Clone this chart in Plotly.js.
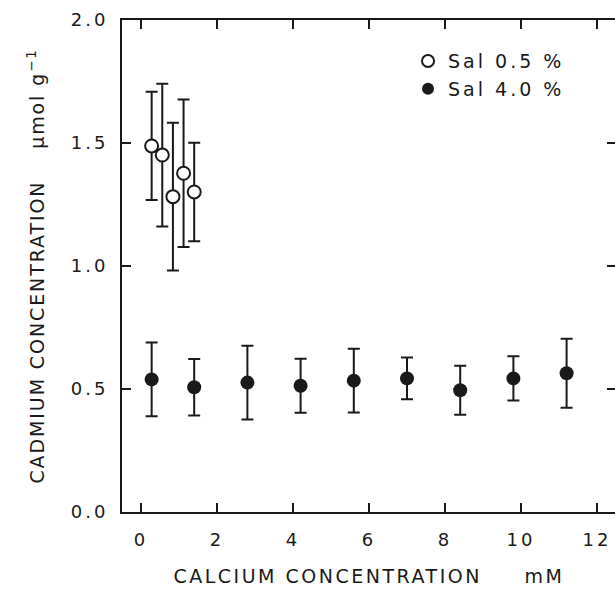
<!DOCTYPE html>
<html>
<head>
<meta charset="utf-8">
<script src="https://cdn.plot.ly/plotly-3.0.1.min.js"></script>
<style>
  html, body { margin: 0; padding: 0; overflow: hidden; background: #fff; }
  #chart { width: 630px; height: 590px; }
  .xtick text, .ytick text { letter-spacing: 3px; }
  .g-xtitle text { letter-spacing: 2.5px; }
  .g-ytitle text { letter-spacing: 1.9px; }
  .legendtext { letter-spacing: 3px; }
</style>
</head>
<body>
<div id="chart"></div>
<script>
// Sal 0.5 % (open circles)
const lowX   = [0.28, 0.56, 0.84, 1.12, 1.40];
const lowY   = [1.488, 1.451, 1.282, 1.377, 1.301];
const lowErr = [0.22, 0.29, 0.30, 0.30, 0.20];

// Sal 4.0 % (filled circles)
const highX   = [0.28, 1.40, 2.80, 4.20, 5.60, 7.00, 8.40, 9.80, 11.20];
const highY   = [0.539, 0.507, 0.526, 0.513, 0.534, 0.543, 0.495, 0.543, 0.564];
const highErr = [0.15, 0.115, 0.15, 0.11, 0.13, 0.085, 0.10, 0.09, 0.14];

const xTicks = [0, 2, 4, 6, 8, 10, 12];
const yTicks = [0, 0.5, 1.0, 1.5, 2.0];
const yTickText = ['0.0', '0.5', '1.0', '1.5', '2.0'];

const INK = '#1a1a1a';
const FONT = 'DejaVu Sans, sans-serif';

const traces = [
  {
    x: lowX, y: lowY, name: 'Sal 0.5 %', type: 'scatter', mode: 'markers',
    marker: { symbol: 'circle', size: 13, color: '#ffffff', line: { color: INK, width: 2 } },
    error_y: { type: 'data', array: lowErr, visible: true, color: INK, thickness: 2, width: 6 }
  },
  {
    x: highX, y: highY, name: 'Sal 4.0 %', type: 'scatter', mode: 'markers',
    marker: { symbol: 'circle', size: 14, color: INK, line: { color: INK, width: 0 } },
    error_y: { type: 'data', array: highErr, visible: true, color: INK, thickness: 2, width: 6 }
  }
];

const layout = {
  width: 630, height: 590,
  margin: { l: 122, r: 14, t: 20, b: 78 },
  paper_bgcolor: '#ffffff', plot_bgcolor: '#ffffff',
  font: { family: FONT, color: INK, size: 18 },
  showlegend: true,
  legend: {
    x: 0.579, xanchor: 'left', y: 0.955, yanchor: 'top',
    bgcolor: 'rgba(0,0,0,0)', borderwidth: 0,
    font: { family: FONT, size: 19, color: INK },
    itemsizing: 'constant'
  },
  xaxis: {
    range: [-0.5, 12.5], tickvals: xTicks, ticktext: xTicks.map(String),
    ticks: 'inside', ticklen: 9, tickwidth: 1.5, tickcolor: INK,
    showline: true, linecolor: INK, linewidth: 2, mirror: 'ticks',
    showgrid: false, zeroline: false, ticklabelstandoff: 10,
    tickfont: { family: FONT, size: 18, color: INK },
    title: { text: 'CALCIUM CONCENTRATION\u00A0\u00A0\u00A0\u00A0\u00A0mM', font: { family: FONT, size: 19, color: INK }, standoff: 21 }
  },
  yaxis: {
    range: [0, 2], tickvals: yTicks, ticktext: yTickText,
    ticks: 'inside', ticklen: 9, tickwidth: 1.5, tickcolor: INK,
    showline: true, linecolor: INK, linewidth: 2, mirror: 'ticks',
    showgrid: false, zeroline: false, ticklabelstandoff: 8,
    tickfont: { family: FONT, size: 18, color: INK },
    title: { text: 'CADMIUM CONCENTRATION\u00A0\u00A0\u00A0\u00A0μmol g<sup>−1</sup>', font: { family: FONT, size: 19, color: INK }, standoff: 21 }
  }
};

Plotly.newPlot('chart', traces, layout, { displayModeBar: false, staticPlot: true });
</script>
</body>
</html>
